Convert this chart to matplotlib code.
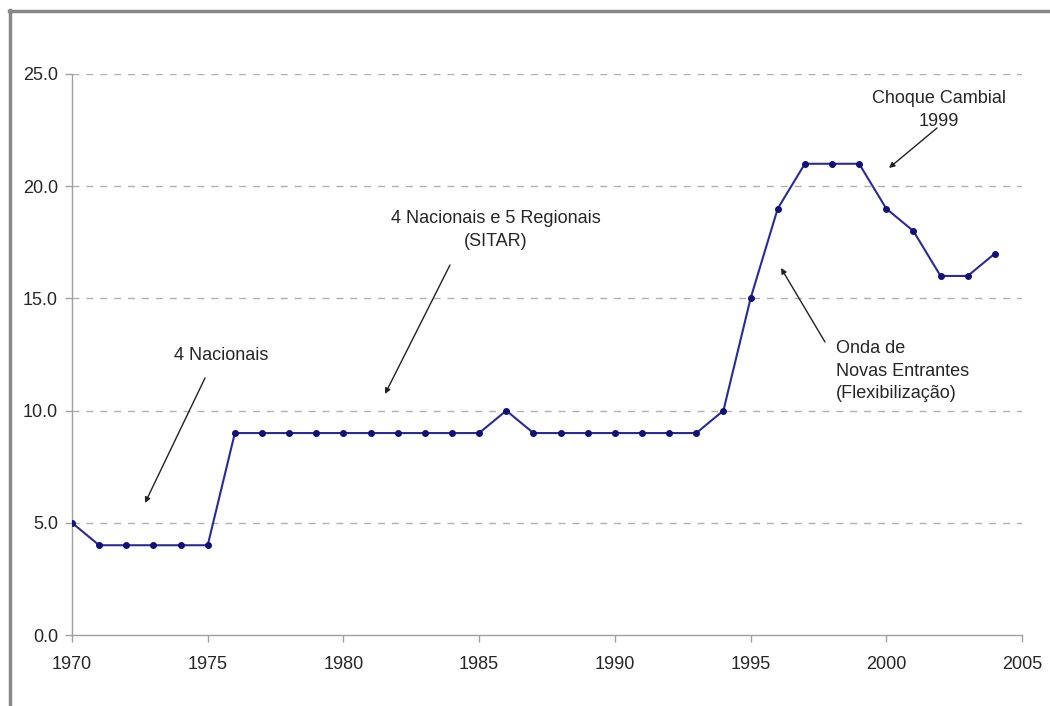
import matplotlib
matplotlib.use("Agg")
import matplotlib.pyplot as plt
from matplotlib.lines import Line2D

years = list(range(1970, 2005))
values = [5, 4, 4, 4, 4, 4, 9, 9, 9, 9, 9, 9, 9, 9, 9, 9, 10, 9, 9, 9,
          9, 9, 9, 9, 10, 15, 19, 21, 21, 21, 19, 18, 16, 16, 17]
y_ticks = [0, 5, 10, 15, 20, 25]
x_ticks = [1970, 1975, 1980, 1985, 1990, 1995, 2000, 2005]

plt.rcParams['font.family'] = ['Liberation Sans', 'DejaVu Sans']

fig = plt.figure(figsize=(10.5, 7.06), dpi=100)
ax = fig.add_axes([72/1050, 1-635/706, (1022-72)/1050, (635-74)/706])

ax.plot(years, values, color='#2a2a96', lw=1.5, marker='o', ms=4,
        mfc='#10107a', mec='#10107a', zorder=3)

ax.set_xlim(1970, 2005)
ax.set_ylim(0, 25)
ax.set_xticks(x_ticks)
ax.set_yticks(y_ticks)
ax.set_yticklabels([f"{v:.1f}" for v in y_ticks])
ax.set_xticklabels([str(v) for v in x_ticks])

for v in y_ticks[1:]:
    ax.axhline(v, color='#b0b0b0', lw=1.0, ls=(0, (5, 5)), zorder=1)

for s in ['top', 'right']:
    ax.spines[s].set_visible(False)
for s in ['left', 'bottom']:
    ax.spines[s].set_color('#a0a0a0')
    ax.spines[s].set_linewidth(1.0)
ax.tick_params(axis='both', colors='#a0a0a0', labelcolor='#262626',
               labelsize=13, length=5, width=1.0)
ax.tick_params(axis='y', pad=5)
ax.tick_params(axis='x', pad=10)

fs = 13
tc = '#262626'


def fx(px):
    return px / 1050


def fy(py):
    return 1 - py / 706


arrowprops = dict(arrowstyle='-|>', color='#222222', lw=1.0,
                  mutation_scale=8, shrinkA=0, shrinkB=0)

fig.text(fx(221), fy(355), "4 Nacionais", ha='center', va='center',
         fontsize=fs, color=tc)
ax.annotate("", xy=(fx(145), fy(503)), xycoords='figure fraction',
            xytext=(fx(205), fy(378)), textcoords='figure fraction',
            arrowprops=arrowprops)

fig.text(fx(496), fy(230), "4 Nacionais e 5 Regionais\n(SITAR)",
         ha='center', va='center', fontsize=fs, color=tc, linespacing=1.39)
ax.annotate("", xy=(fx(385), fy(394)), xycoords='figure fraction',
            xytext=(fx(450), fy(265)), textcoords='figure fraction',
            arrowprops=arrowprops)

fig.text(fx(939), fy(110), "Choque Cambial\n1999", ha='center', va='center',
         fontsize=fs, color=tc, linespacing=1.45)
ax.annotate("", xy=(fx(889), fy(168)), xycoords='figure fraction',
            xytext=(fx(937), fy(128)), textcoords='figure fraction',
            arrowprops=arrowprops)

fig.text(fx(836), fy(371), "Onda de\nNovas Entrantes\n(Flexibilização)",
         ha='left', va='center', fontsize=fs, color=tc, linespacing=1.4)
ax.annotate("", xy=(fx(781), fy(268)), xycoords='figure fraction',
            xytext=(fx(825), fy(342)), textcoords='figure fraction',
            arrowprops=arrowprops)

# frame lines (top and left)
fig.add_artist(Line2D([fx(9), 1.0], [fy(11), fy(11)], color='#888888', lw=2.5,
                      transform=fig.transFigure))
fig.add_artist(Line2D([fx(10), fx(10)], [fy(10), 0.0], color='#888888', lw=2.5,
                      transform=fig.transFigure))

fig.savefig("out.png", dpi=100)
